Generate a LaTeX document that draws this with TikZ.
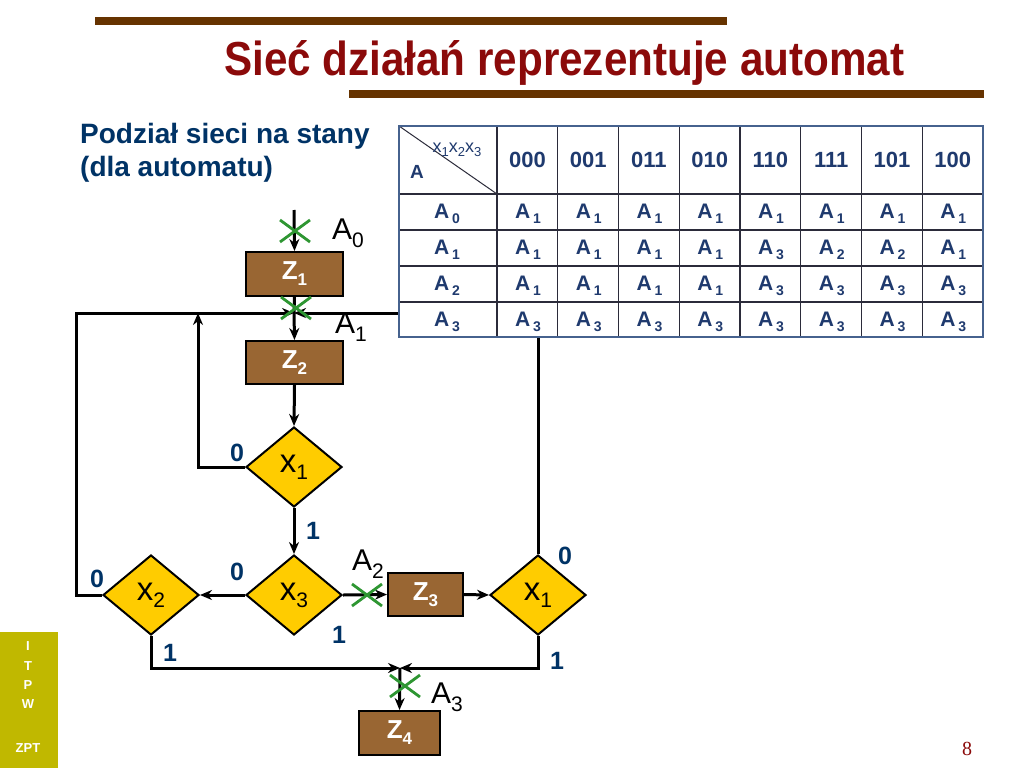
\documentclass[tikz,border=0pt]{standalone}
\usepackage{fontspec}
\setmainfont{Liberation Sans}
\newfontfamily\serifnum{Liberation Serif}
\usetikzlibrary{arrows.meta,shapes.geometric}
\definecolor{titlered}{HTML}{8B0A0A}
\definecolor{barbrown}{HTML}{663300}
\definecolor{boxbrown}{HTML}{996633}
\definecolor{diayellow}{HTML}{FFCC00}
\definecolor{lblue}{HTML}{003366}
\definecolor{xgreen}{HTML}{2E9632}
\definecolor{olivebar}{HTML}{C0B800}
\definecolor{tline}{HTML}{2B2B3A}
\definecolor{tborder}{HTML}{46628E}
\definecolor{tblue}{HTML}{1F3A6E}
\newcommand{\fs}[1]{\fontsize{#1}{#1}\selectfont}
\newcommand{\Alab}[1]{\fs{30}A\raisebox{-8pt}{\fs{21}#1}}
\newcommand{\Xlab}[1]{\fs{33}x\raisebox{-7pt}{\fs{21}#1}}
\newcommand{\Zlab}[1]{\fs{26}\bfseries Z\raisebox{-6pt}{\fs{17}#1}}
\newcommand{\Tlab}[1]{\fs{21}\bfseries A\kern3pt\raisebox{-5pt}{\fs{14}#1}}
\newcommand{\hx}[1]{x\raisebox{-4pt}{\fs{13}#1}}
\begin{document}
\begin{tikzpicture}[x=1pt,y=-1pt,
  stepbox/.style={draw=black, line width=2pt, fill=boxbrown, inner sep=0pt, text=white},
  cond/.style={diamond, draw=black, line width=2pt, fill=diayellow, inner sep=0pt, minimum width=96pt, minimum height=80pt},
  flow/.style={line width=3pt, -{Stealth[length=12pt,width=10pt]}},
  plain/.style={line width=3pt},
  bitlab/.style={font=\fs{25}\bfseries, text=lblue, inner sep=0pt},
  stlab/.style={inner sep=0pt, text=black},
  cross/.style={line width=2.8pt, draw=xgreen},
  tcell/.style={inner sep=0pt, text=tblue},
  sidet/.style={inner sep=0pt, text=white, font=\fs{13}\bfseries}
]
\useasboundingbox (0,0) rectangle (1024,768);
\fill[white] (0,0) rectangle (1024,768);

% bars and title
\fill[barbrown] (95,17) rectangle (727,25);
\fill[barbrown] (349,90) rectangle (984,98);
\node[anchor=base west, inner sep=0pt, text=titlered] (title) at (224,75)
  {\resizebox{680pt}{35pt}{\fs{46}\bfseries Sieć działań reprezentuje automat}};
\node[anchor=base west, inner sep=0pt, text=lblue, font=\fs{28}\bfseries] (sub1) at (80,143) {Podział sieci na stany};
\node[anchor=base west, inner sep=0pt, text=lblue, font=\fs{28}\bfseries] (sub2) at (80,176) {(dla automatu)};

% side bar
\fill[olivebar] (0,632) rectangle (58,768);
\node[sidet] (s1) at (28,646) {I};
\node[sidet] (s2) at (28,666) {T};
\node[sidet] (s3) at (28,685) {P};
\node[sidet] (s4) at (28,704) {W};
\node[sidet] (s5) at (28,748) {ZPT};
\node[inner sep=0pt, text=titlered, font=\serifnum\fs{20}] (pg) at (967,749) {8};

% flowchart nodes
\node[stepbox, minimum width=97pt, minimum height=44pt] (z1) at (294.5,274) {\Zlab{1}};
\node[stepbox, minimum width=97pt, minimum height=43pt] (z2) at (294.5,362.5) {\Zlab{2}};
\node[cond] (x1) at (294,467) {\Xlab{1}};
\node[cond] (x3) at (294,595) {\Xlab{3}};
\node[cond] (x2) at (151,595) {\Xlab{2}};
\node[stepbox, minimum width=75pt, minimum height=43pt] (z3) at (425.5,594.5) {\Zlab{3}};
\node[cond] (x1b) at (538,595) {\Xlab{1}};
\node[stepbox, minimum width=81pt, minimum height=44pt] (z4) at (399.5,733) {\Zlab{4}};

\coordinate (a0in) at (294,210);
\coordinate (j1) at (294,313);
\coordinate (j3) at (400,668);
\coordinate (l1) at (198,313);
\coordinate (lc) at (76,313);

% connectors
\draw[flow] (a0in) -- (z1.north);
\draw[plain] (z1.south) -- (j1);
\draw[flow] (j1) -- (z2.north);
\draw[flow] (z2.south) -- (x1.north);
\draw[flow] (x1.south) -- (x3.north);
\draw[flow] (x3.west) -- (x2.east);
\draw[flow] (x3.east) -- (z3.west);
\draw[flow] (z3.east) -- (x1b.west);
\draw[flow] (x1.west) -| (l1);
\draw[flow] (x2.west) -| (lc) -- (j1);
\draw[flow] (x1b.north) |- (j1);
\draw[flow] (x2.south) |- (j3);
\draw[flow] (x1b.south) |- (j3);
\draw[flow] (j3) -- (z4.north);

% green crosses
\coordinate (g0) at (295,231);
\coordinate (g1) at (296,308);
\coordinate (g2) at (367,595);
\coordinate (g3) at (405,686);
\foreach \g in {g0,g1,g2,g3}{
  \draw[cross] ([shift={(-15,-11)}]\g) -- ([shift={(15,11)}]\g);
  \draw[cross] ([shift={(-15,11)}]\g) -- ([shift={(15,-11)}]\g);
}

% state labels
\node[stlab] (la0) at (348,233) {\Alab{0}};
\node[stlab] (la1) at (351,327) {\Alab{1}};
\node[stlab] (la2) at (368,564) {\Alab{2}};
\node[stlab] (la3) at (447,697) {\Alab{3}};

% branch labels
\node[bitlab] (b1) at (237,453) {0};
\node[bitlab] (b2) at (313,531) {1};
\node[bitlab] (b3) at (237,572) {0};
\node[bitlab] (b4) at (339,635) {1};
\node[bitlab] (b5) at (97,579) {0};
\node[bitlab] (b6) at (170,653) {1};
\node[bitlab] (b7) at (565,556) {0};
\node[bitlab] (b8) at (557,661) {1};

% table
\fill[white] (399,126) rectangle (983,337);
\foreach \yy in {194,230,266,302}{ \draw[tline, line width=1.3pt] (399,\yy) -- (983,\yy); }
\foreach \k in {0,...,7}{ \draw[tline, line width=1.3pt] ({497+60.75*\k},126) -- ({497+60.75*\k},337); }
\draw[tline, line width=1pt] (399,126) -- (497,194);
\draw[tborder, line width=1.6pt] (399,126) rectangle (983,337);
\node[tcell, font=\fs{18}] (hx) at (457,150) {\hx{1}\hx{2}\hx{3}};
\node[tcell, font=\fs{19}\bfseries] (ha) at (417,172) {A};
\foreach \h [count=\c from 0] in {000,001,011,010,110,111,101,100}{
  \node[tcell, font=\fs{22}\bfseries] (h\c) at ({527.4+60.75*\c},160) {\h};
}
\foreach \r/\vals in {0/{1,1,1,1,1,1,1,1},1/{1,1,1,1,3,2,2,1},2/{1,1,1,1,3,3,3,3},3/{3,3,3,3,3,3,3,3}}{
  \node[tcell] (r\r) at (447,{214+36*\r}) {\Tlab{\r}};
  \foreach \v [count=\c from 0] in \vals {
    \node[tcell] (t\r\c) at ({528+60.75*\c},{214+36*\r}) {\Tlab{\v}};
  }
}
\end{tikzpicture}
\end{document}
